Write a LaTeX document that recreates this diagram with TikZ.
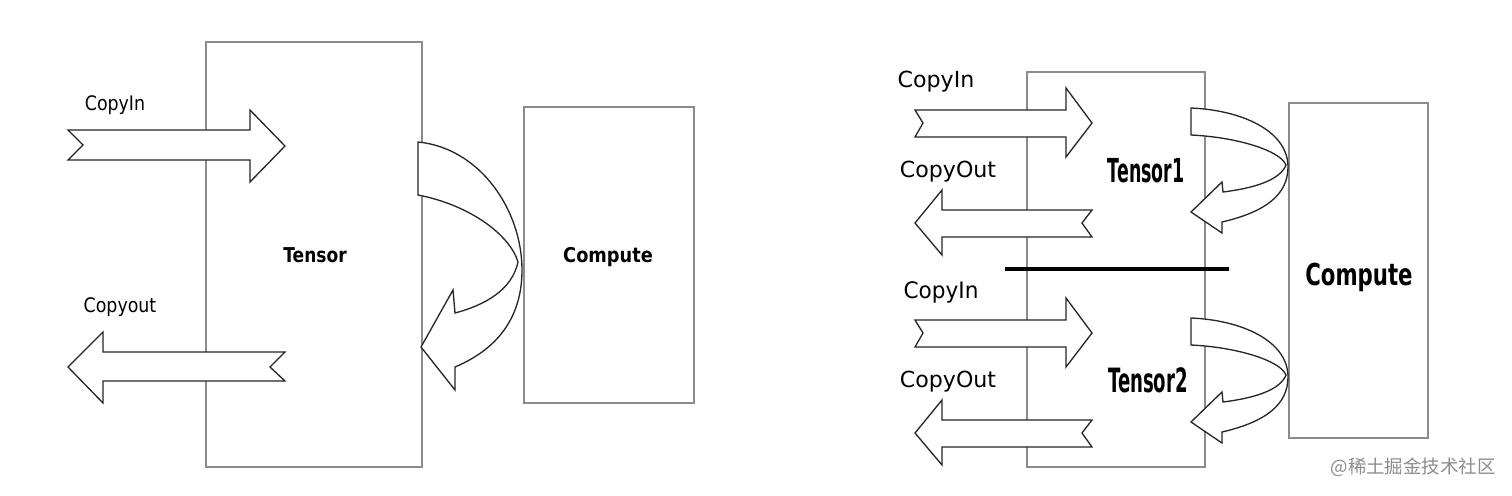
\documentclass[tikz,border=0pt]{standalone}
\usepackage{fontspec}
\setmainfont{DejaVu Sans}
\newfontfamily\cjk{Noto Sans CJK SC}
\usetikzlibrary{fit}
\tikzset{
  box/.style={draw=black!45, line width=0.75pt, inner sep=0pt},
  fatarrow/.style={draw=black!85, fill=white, line width=0.75pt, line join=miter},
  sepline/.style={draw=black, line width=1.8pt},
  lbl/.style={inner sep=0pt, anchor=base},
}
\newcommand{\reglbl}[3]{\fontsize{#1}{#1}\selectfont\scalebox{1}[#2]{#3}}
\newcommand{\boldlbl}[3]{\fontsize{#1}{#1}\selectfont\bfseries\scalebox{1}[#2]{#3}}
\begin{document}
\begin{tikzpicture}[x=0.02cm, y=-0.02cm]
\useasboundingbox (0,0) rectangle (1512,495);
\fill[white] (0,0) rectangle (1512,495);

% ---------- left diagram ----------
\node[box, fit={(206,42)(422,467)}] (tensorL) {};
\node[box, fit={(524,107)(694,403)}] (computeL) {};

% CopyIn arrow
\draw[fatarrow] (68,130) -- (250,130) -- (250,110) -- (285,146) -- (250,182) -- (250,160) -- (68,160) -- (83,145) -- cycle;
% Copyout arrow
\draw[fatarrow] (68,367) -- (103,332) -- (103,352) -- (285,352) -- (270,367) -- (285,381) -- (103,381) -- (103,403) -- cycle;
% curved arrow
\draw[fatarrow] (418,142) -- (418,195)
  .. controls (470,205) and (510,235) .. (518,262)
  .. controls (512,290) and (485,305) .. (455,313)
  -- (453,290) -- (421,347) -- (455,390) -- (455,367)
  .. controls (500,348) and (522,315) .. (522,270)
  .. controls (522,210) and (480,148) .. (418,142) -- cycle;

\node[lbl] (cinL) at (115,110) {\reglbl{9.9}{1.15}{CopyIn}};
\node[lbl] (coutL) at (120,312) {\reglbl{9.9}{1.15}{Copyout}};
\node[lbl] (tensorLlbl) at (315,262) {\boldlbl{9.7}{1.2}{Tensor}};
\node[lbl] (computeLlbl) at (608,262) {\boldlbl{10.1}{1.15}{Compute}};

% ---------- right diagram ----------
\node[box, fit={(1027,72)(1205,467)}] (tensorR) {};
\node[box, fit={(1289,103)(1428,438)}] (computeR) {};
\coordinate (sepA) at (1005,269);
\coordinate (sepB) at (1229,269);
\draw[sepline] (sepA) -- (sepB);

\foreach \dy in {0,210}{
  \begin{scope}[shift={(0,\dy)}]
  \draw[fatarrow] (915,110) -- (1066,110) -- (1066,88) -- (1092,123) -- (1066,157) -- (1066,137) -- (915,137) -- (923,123) -- cycle;
  \draw[fatarrow] (915,223) -- (942,190) -- (942,210) -- (1092,210) -- (1082,223) -- (1092,237) -- (942,237) -- (942,255) -- cycle;
  \draw[fatarrow] (1191,108) -- (1191,135)
    .. controls (1235,137) and (1280,150) .. (1286,165)
    .. controls (1280,180) and (1255,188) .. (1223,192)
    -- (1222,182) -- (1191,212) -- (1222,233) -- (1222,222)
    .. controls (1265,212) and (1288,195) .. (1288,167)
    .. controls (1288,130) and (1240,110) .. (1191,108) -- cycle;
  \end{scope}
}

\node[lbl] (cinR1) at (936,87) {\reglbl{12.6}{1}{CopyIn}};
\node[lbl] (coutR1) at (948,177) {\reglbl{12.6}{1}{CopyOut}};
\node[lbl] (cinR2) at (941,298) {\reglbl{12.3}{1.05}{CopyIn}};
\node[lbl] (coutR2) at (948,387) {\reglbl{12.6}{1}{CopyOut}};
\node[lbl] (tensor1) at (1146,182) {\boldlbl{9.9}{1.9}{Tensor1}};
\node[lbl] (tensor2) at (1148,392) {\boldlbl{10.3}{1.85}{Tensor2}};
\node[lbl] (computeRlbl) at (1359,285) {\boldlbl{12.1}{1.42}{Compute}};

\node[inner sep=0pt, anchor=base east, text=black!45] (wm) at (1496,473) {\cjk\fontsize{10.5}{10.5}\selectfont @稀土掘金技术社区};
\end{tikzpicture}
\end{document}
